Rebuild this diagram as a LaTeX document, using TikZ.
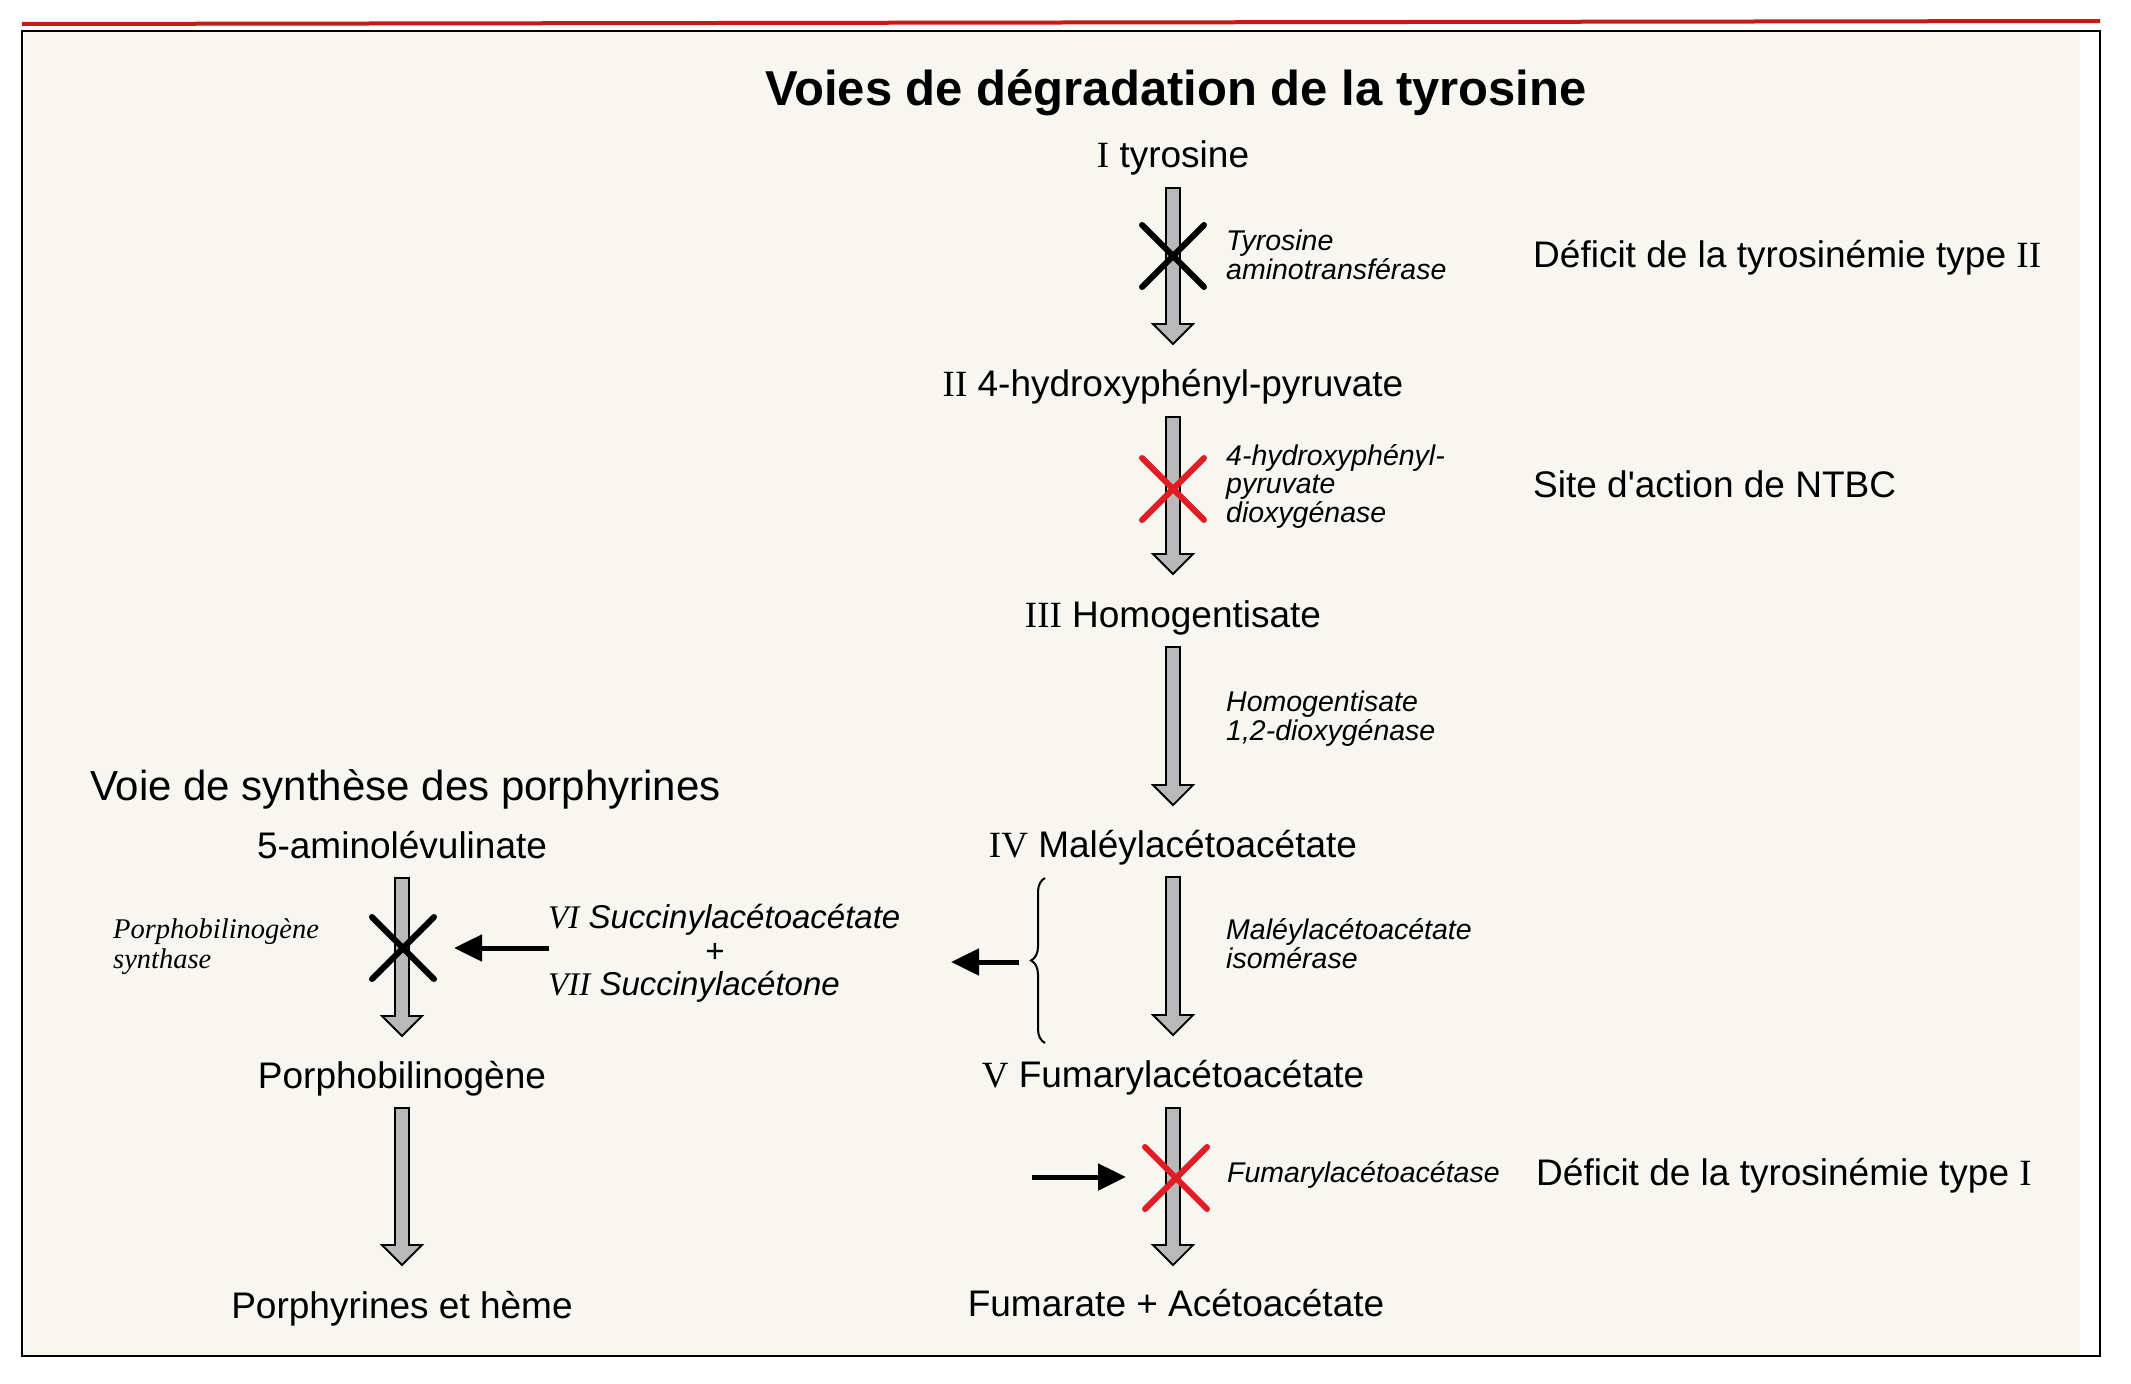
\documentclass[tikz,border=0pt]{standalone}
\usepackage{fontspec}
\setmainfont{Liberation Sans}
\newfontfamily\tms{Liberation Serif}
\usetikzlibrary{calc,arrows.meta,decorations.pathreplacing}
\definecolor{paper}{RGB}{248,246,241}
\definecolor{xred}{RGB}{226,28,36}
\definecolor{topred}{RGB}{195,28,22}
\definecolor{shaft}{RGB}{185,185,185}
\newcommand\fatarrow[2]{\draw[fatarr] let \p1=(#1),\p2=(#2) in
  (\x1-7pt,\y1) -- (\x1-7pt,\y2+20pt) -- (\x1-20pt,\y2+20pt) -- (\x1,\y2) --
  (\x1+20pt,\y2+20pt) -- (\x1+7pt,\y2+20pt) -- (\x1+7pt,\y1) -- cycle;}
\newcommand\crossat[2]{%
  \draw[xcross,#2] ($(#1)+(-31,-31)$) -- ($(#1)+(31,31)$);
  \draw[xcross,#2] ($(#1)+(-31,31)$) -- ($(#1)+(31,-31)$);}
\begin{document}
\begin{tikzpicture}[x=1pt,y=-1pt,
 lbl/.style={font=\fontsize{37}{40}\selectfont, inner sep=0pt, anchor=base},
 lblw/.style={lbl, anchor=base west},
 enz/.style={font=\itshape\fontsize{28.5}{28.5}\selectfont, inner sep=0pt, anchor=base west, align=left},
 fatarr/.style={draw=black, line width=1.8pt, fill=shaft, line join=miter},
 xcross/.style={line width=6pt, line cap=round},
 blk/.style={line width=5pt, -{Triangle[length=28pt,width=26pt]}},
]
\useasboundingbox (0,0) rectangle (2131,1384);
\fill[white] (0,0) rectangle (2131,1384);
\fill[paper] (22,31) rectangle (2080,1356);
\draw[line width=2.2pt] (22,31) rectangle (2100,1356);
\draw[topred, line width=4pt] (22,24) -- (2100,21);

% title
\node[font=\bfseries\fontsize{49}{52}\selectfont, inner sep=0pt, anchor=base] (title) at (1176,105) {Voies de dégradation de la tyrosine};

% main pathway
\node[lbl] (tyr) at (1173,167) {{\tms I} tyrosine};
\node[lbl] (hpp) at (1173,396) {{\tms II} 4-hydroxyphényl-pyruvate};
\node[lbl] (hga) at (1173,627) {{\tms III} Homogentisate};
\node[lbl] (maa) at (1173,857) {{\tms IV} Maléylacétoacétate};
\node[lbl] (faa) at (1173,1087) {{\tms V} Fumarylacétoacétate};
\node[lbl] (fum) at (1176,1316) {Fumarate + Acétoacétate};

% enzymes (base anchor = baseline of the last line)
\node[enz] (e1) at (1226,279) {Tyrosine\\aminotransférase};
\node[enz] (e2) at (1226,522) {4-hydroxyphényl-\\pyruvate\\dioxygénase};
\node[enz] (e3) at (1226,740) {Homogentisate\\1,2-dioxygénase};
\node[enz] (e4) at (1226,968) {Maléylacétoacétate\\isomérase};
\node[enz] (e5) at (1227,1182) {Fumarylacétoacétase};

% right notes
\node[lblw] (d2) at (1533,267) {Déficit de la tyrosinémie type {\tms II}};
\node[lblw] (ntbc) at (1533,497) {Site d\textquotesingle action de NTBC};
\node[lblw] (d1) at (1536,1185) {Déficit de la tyrosinémie type {\tms I}};

% porphyrin pathway
\node[font=\fontsize{42}{45}\selectfont, inner sep=0pt, anchor=base west] (vs) at (90,800) {Voie de synthèse des porphyrines};
\node[lbl] (ala) at (402,858) {5-aminolévulinate};
\node[lbl] (pbg) at (402,1088) {Porphobilinogène};
\node[lbl] (por) at (402,1318) {Porphyrines et hème};
\node[font=\tms\itshape\fontsize{28.5}{30}\selectfont, inner sep=0pt, anchor=base west, align=left] (pbgs) at (113,968) {Porphobilinogène\\synthase};

\node[font=\itshape\fontsize{33}{35}\selectfont, inner sep=0pt, anchor=base west] (sa) at (548,928) {{\tms VI} Succinylacétoacétate};
\node[font=\fontsize{33}{35}\selectfont, inner sep=0pt] (plus) at (715,953) {+};
\node[font=\itshape\fontsize{33}{35}\selectfont, inner sep=0pt, anchor=base west] (sac) at (548,995) {{\tms VII} Succinylacétone};

% arrow coordinates
\coordinate (a1s) at (1173,188);  \coordinate (a1e) at (1173,344);
\coordinate (a2s) at (1173,417);  \coordinate (a2e) at (1173,574);
\coordinate (a3s) at (1173,647);  \coordinate (a3e) at (1173,805);
\coordinate (a4s) at (1173,877);  \coordinate (a4e) at (1173,1035);
\coordinate (a5s) at (1173,1108); \coordinate (a5e) at (1173,1265);
\coordinate (l1s) at (402,878);   \coordinate (l1e) at (402,1036);
\coordinate (l2s) at (402,1108);  \coordinate (l2e) at (402,1265);

\fatarrow{a1s}{a1e}
\fatarrow{a2s}{a2e}
\fatarrow{a3s}{a3e}
\fatarrow{a4s}{a4e}
\fatarrow{a5s}{a5e}
\fatarrow{l1s}{l1e}
\fatarrow{l2s}{l2e}

% crosses
\coordinate (x1) at (1173,256);
\coordinate (x2) at (1173,489);
\coordinate (x3) at (1176,1178);
\coordinate (x4) at (403,948);
\crossat{x1}{black}
\crossat{x2}{xred}
\crossat{x3}{xred}
\crossat{x4}{black}

% black arrows
\coordinate (b1s) at (549,948);  \coordinate (b1e) at (454,948);
\coordinate (b2s) at (1019,962); \coordinate (b2e) at (951,962);
\coordinate (b3s) at (1032,1177); \coordinate (b3e) at (1126,1177);
\draw[blk] (b1s) -- (b1e);
\draw[blk] (b2s) -- (b2e);
\draw[blk] (b3s) -- (b3e);

% brace
\coordinate (br1) at (1045,1043); \coordinate (br2) at (1045,878);
\draw[line width=2pt, decorate, decoration={brace, amplitude=14pt}] (br1) -- (br2);
\end{tikzpicture}
\end{document}
